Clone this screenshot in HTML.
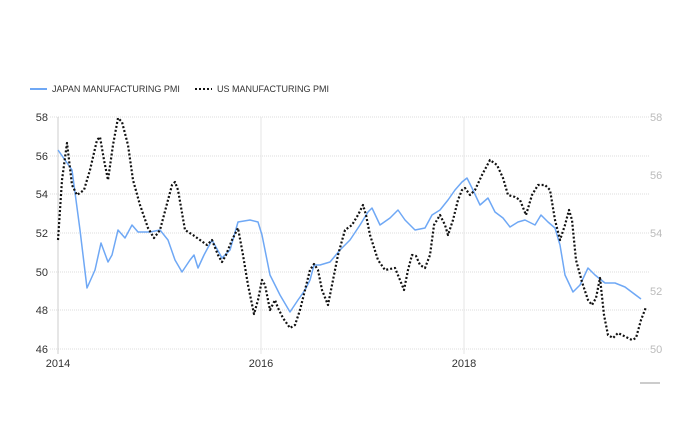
<!DOCTYPE html>
<html><head><meta charset="utf-8"><style>
body{margin:0;background:#fff;}
svg{display:block;font-family:"Liberation Sans",sans-serif;}
</style></head><body>
<svg width="700" height="444" viewBox="0 0 700 444">
<g stroke="#ddd" stroke-width="1" stroke-dasharray="1,1">
<line x1="50" y1="117" x2="650" y2="117"/>
<line x1="50" y1="156" x2="650" y2="156"/>
<line x1="50" y1="194" x2="650" y2="194"/>
<line x1="50" y1="233" x2="650" y2="233"/>
<line x1="50" y1="272" x2="650" y2="272"/>
<line x1="50" y1="310" x2="650" y2="310"/>
<line x1="50" y1="349" x2="650" y2="349"/>
</g>
<line x1="261" y1="117" x2="261" y2="354" stroke="#e6e6e6"/>
<line x1="464" y1="117" x2="464" y2="354" stroke="#e6e6e6"/>
<line x1="58" y1="117" x2="58" y2="354" stroke="#ccc"/>
<g font-size="11" fill="#333" text-anchor="end">
<text x="48" y="121">58</text><text x="48" y="160">56</text><text x="48" y="198">54</text>
<text x="48" y="237">52</text><text x="48" y="276">50</text><text x="48" y="314">48</text><text x="48" y="353">46</text>
</g>
<g font-size="11" fill="#bbb">
<text x="650" y="121">58</text><text x="650" y="179">56</text><text x="650" y="237">54</text>
<text x="650" y="295">52</text><text x="650" y="353">50</text>
</g>
<g font-size="11" fill="#333" text-anchor="middle">
<text x="58" y="367">2014</text><text x="261" y="367">2016</text><text x="464" y="367">2018</text>
</g>
<line x1="640" y1="383" x2="660" y2="383" stroke="#999"/>
<line x1="30" y1="89" x2="47" y2="89" stroke="#6fa8f5" stroke-width="2"/>
<text x="52" y="92" font-size="9" fill="#333">JAPAN MANUFACTURING PMI</text>
<line x1="195" y1="89" x2="212" y2="89" stroke="#111" stroke-width="2" stroke-dasharray="2,2"/>
<text x="217" y="92" font-size="9" fill="#333">US MANUFACTURING PMI</text>
<polyline fill="none" stroke="#6fa8f5" stroke-width="1.5" stroke-linejoin="round" points="58,150 72,170 80,230 87,288 95,270 101,243 108,262 112,255 118,230 125,238 132,225 138,232 150,232 160,230 168,240 175,260 182,272 190,260 194,255 198,268 204,255 212,240 222,258 230,250 238,222 250,220 258,222 262,235 270,275 280,295 290,312 298,300 305,290 310,280 314,265 320,265 330,262 340,250 350,240 360,225 368,212 372,208 380,225 390,218 398,210 405,220 415,230 425,228 432,215 440,210 448,200 455,190 462,182 467,178 472,188 480,205 488,198 495,212 503,218 510,227 518,222 525,220 535,225 541,215 548,222 555,228 560,245 565,275 573,292 580,285 588,268 595,275 605,283 615,283 625,287 641,299"/>
<polyline fill="none" stroke="#111" stroke-width="2.2" stroke-dasharray="2,2" stroke-linejoin="round" points="58,240 62,180 67,143 72,185 77,195 84,190 90,170 97,140 100,137 104,160 108,180 113,145 118,118 122,122 128,145 133,180 140,205 148,228 154,238 160,230 168,200 172,185 175,182 178,190 185,230 193,235 200,240 207,245 212,240 218,255 222,262 226,255 232,240 238,228 243,255 248,285 254,314 258,300 262,280 265,285 270,310 275,300 278,308 283,318 290,328 295,325 300,310 305,290 310,270 314,264 318,270 322,290 328,305 333,280 338,255 345,230 352,225 358,215 363,205 366,215 370,235 378,260 385,270 395,268 400,280 404,290 408,270 412,255 416,256 420,265 425,268 430,255 434,225 440,215 445,225 448,235 453,220 458,200 462,190 465,188 470,195 475,190 482,175 490,160 497,165 503,178 508,195 515,197 520,200 526,215 532,195 538,185 545,185 550,190 555,220 560,240 565,225 569,210 572,220 576,260 582,282 588,300 592,305 596,298 600,278 604,315 608,335 613,338 618,333 622,335 628,338 632,340 636,338 641,320 646,307"/>
</svg>
</body></html>
